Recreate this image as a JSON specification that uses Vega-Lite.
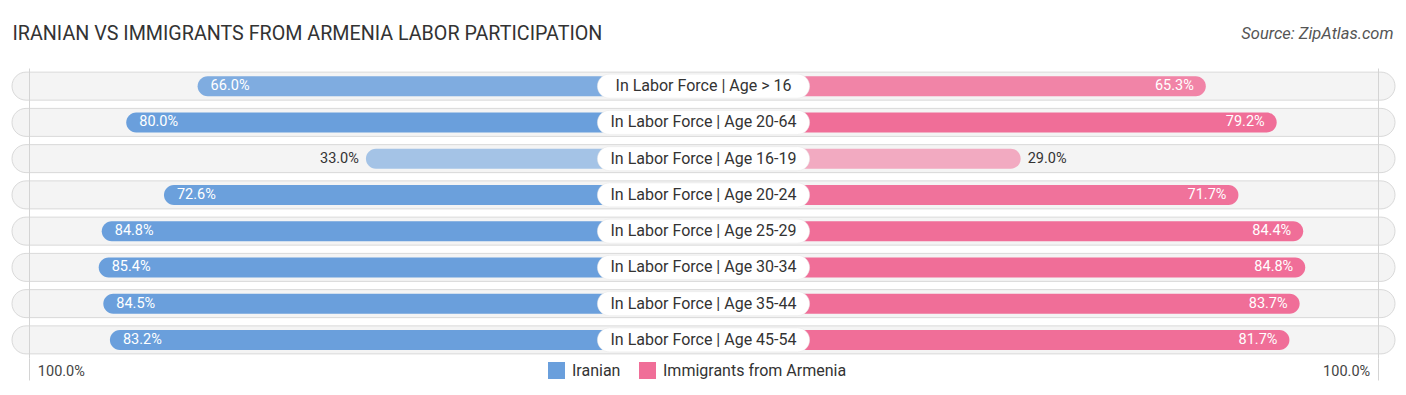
{
  "$schema": "https://vega.github.io/schema/vega-lite/v6.json",
  "width": 1383,
  "height": 290,
  "autosize": {"type": "none"},
  "padding": {"left": 12, "top": 68, "right": 11, "bottom": 37},
  "background": "white",
  "config": {"view": {"stroke": null}, "font": "Roboto"},
  "data": {
    "values": [
      {"category": "In Labor Force | Age > 16", "group": "Iranian", "value": 0.660},
      {"category": "In Labor Force | Age > 16", "group": "Immigrants from Armenia", "value": 0.653},
      {"category": "In Labor Force | Age 20-64", "group": "Iranian", "value": 0.800},
      {"category": "In Labor Force | Age 20-64", "group": "Immigrants from Armenia", "value": 0.792},
      {"category": "In Labor Force | Age 16-19", "group": "Iranian", "value": 0.330},
      {"category": "In Labor Force | Age 16-19", "group": "Immigrants from Armenia", "value": 0.290},
      {"category": "In Labor Force | Age 20-24", "group": "Iranian", "value": 0.726},
      {"category": "In Labor Force | Age 20-24", "group": "Immigrants from Armenia", "value": 0.717},
      {"category": "In Labor Force | Age 25-29", "group": "Iranian", "value": 0.848},
      {"category": "In Labor Force | Age 25-29", "group": "Immigrants from Armenia", "value": 0.844},
      {"category": "In Labor Force | Age 30-34", "group": "Iranian", "value": 0.854},
      {"category": "In Labor Force | Age 30-34", "group": "Immigrants from Armenia", "value": 0.848},
      {"category": "In Labor Force | Age 35-44", "group": "Iranian", "value": 0.845},
      {"category": "In Labor Force | Age 35-44", "group": "Immigrants from Armenia", "value": 0.837},
      {"category": "In Labor Force | Age 45-54", "group": "Iranian", "value": 0.832},
      {"category": "In Labor Force | Age 45-54", "group": "Immigrants from Armenia", "value": 0.817}
    ]
  },
  "encoding": {
    "y": {"field": "category", "type": "nominal", "sort": null, "axis": null,
          "scale": {"paddingInner": 0, "paddingOuter": 0}}
  },
  "layer": [
    {
      "transform": [{"filter": "datum.group === 'Iranian'"}],
      "mark": {"type": "bar", "size": 28, "cornerRadius": 14, "fill": "#f4f4f4", "stroke": "#d9d9d9", "strokeWidth": 1},
      "encoding": {
        "x": {"datum": 1.024, "type": "quantitative",
              "scale": {"domain": [-0.332, 1.024], "range": [691.5, 0], "nice": false, "zero": false},
              "axis": {"orient": "top", "labels": false, "ticks": false, "domain": false, "grid": false,
                       "title": "IRANIAN VS IMMIGRANTS FROM ARMENIA LABOR PARTICIPATION",
                       "titleX": 0, "titleY": -35, "titleAlign": "left", "titleBaseline": "middle",
                       "titleFontSize": 19.7, "titleFontWeight": "normal", "titleColor": "#333333", "titleFont": "Roboto"}},
        "x2": {"datum": -1.688}
      }
    },
    {
      "transform": [{"filter": "datum.group === 'Iranian'"}],
      "mark": {"type": "bar", "size": 20, "cornerRadius": 10},
      "encoding": {
        "x": {"field": "value", "type": "quantitative",
              "scale": {"domain": [-0.332, 1.024], "range": [691.5, 0], "nice": false, "zero": false},
              "axis": {"orient": "bottom", "values": [0.99], "labelExpr": "'100.0%'", "grid": true, "gridColor": "#d4d4d4",
                       "ticks": true, "tickSize": 22, "tickColor": "#d4d4d4", "domain": false,
                       "labelAlign": "left", "labelOffset": 8, "labelPadding": -16, "labelFontSize": 14.5,
                       "labelColor": "#444444", "title": null, "zindex": 1}},
        "x2": {"datum": -0.332},
        "color": {"field": "group", "type": "nominal",
                  "scale": {"domain": ["Iranian", "Immigrants from Armenia"], "range": ["#6a9fdc", "#f06e98"]},
                  "legend": {"orient": "none", "legendX": 536, "legendY": 294, "direction": "horizontal", "title": null,
                             "symbolType": "square", "symbolSize": 289, "symbolStrokeWidth": 0, "symbolOpacity": 1,
                             "labelFontSize": 16, "labelColor": "#333333", "labelFont": "Roboto", "labelLimit": 400,
                             "columnPadding": 18, "labelOffset": 7}},
        "opacity": {"field": "value", "type": "quantitative",
                    "scale": {"domain": [0.30, 0.66, 0.73], "range": [0.55, 0.85, 1], "clamp": true}, "legend": null}
      }
    },
    {
      "transform": [{"filter": "datum.group === 'Immigrants from Armenia'"}],
      "mark": {"type": "bar", "size": 20, "cornerRadius": 10},
      "encoding": {
        "x": {"field": "value", "type": "quantitative",
              "scale": {"domain": [-0.332, 1.024], "range": [691.5, 1383], "nice": false, "zero": false},
              "axis": {"orient": "bottom", "values": [0.99], "labelExpr": "'100.0%'", "grid": true, "gridColor": "#d4d4d4",
                       "ticks": true, "tickSize": 22, "tickColor": "#d4d4d4", "domain": false,
                       "labelAlign": "right", "labelOffset": -8, "labelPadding": -16, "labelFontSize": 14.5,
                       "labelColor": "#444444", "title": null, "zindex": 1}},
        "x2": {"datum": -0.332},
        "color": {"field": "group", "type": "nominal",
                  "scale": {"domain": ["Iranian", "Immigrants from Armenia"], "range": ["#6a9fdc", "#f06e98"]}},
        "opacity": {"field": "value", "type": "quantitative",
                    "scale": {"domain": [0.30, 0.66, 0.73], "range": [0.55, 0.85, 1], "clamp": true}, "legend": null}
      }
    },
    {
      "transform": [{"filter": "datum.group === 'Iranian' && datum.value >= 0.5"}],
      "mark": {"type": "text", "align": "left", "dx": 13, "baseline": "middle", "fontSize": 14.5, "color": "white", "font": "Roboto"},
      "encoding": {
        "x": {"field": "value", "type": "quantitative",
              "scale": {"domain": [-0.332, 1.024], "range": [691.5, 0], "nice": false, "zero": false}, "axis": null},
        "text": {"field": "value", "type": "quantitative", "format": ".1%"}
      }
    },
    {
      "transform": [{"filter": "datum.group === 'Iranian' && datum.value < 0.5"}],
      "mark": {"type": "text", "align": "right", "dx": -7, "baseline": "middle", "fontSize": 14.5, "color": "#333333", "font": "Roboto"},
      "encoding": {
        "x": {"field": "value", "type": "quantitative",
              "scale": {"domain": [-0.332, 1.024], "range": [691.5, 0], "nice": false, "zero": false}, "axis": null},
        "text": {"field": "value", "type": "quantitative", "format": ".1%"}
      }
    },
    {
      "transform": [{"filter": "datum.group === 'Immigrants from Armenia' && datum.value >= 0.5"}],
      "mark": {"type": "text", "align": "right", "dx": -12, "baseline": "middle", "fontSize": 14.5, "color": "white", "font": "Roboto"},
      "encoding": {
        "x": {"field": "value", "type": "quantitative",
              "scale": {"domain": [-0.332, 1.024], "range": [691.5, 1383], "nice": false, "zero": false}, "axis": null},
        "text": {"field": "value", "type": "quantitative", "format": ".1%"}
      }
    },
    {
      "transform": [{"filter": "datum.group === 'Immigrants from Armenia' && datum.value < 0.5"}],
      "mark": {"type": "text", "align": "left", "dx": 7, "baseline": "middle", "fontSize": 14.5, "color": "#333333", "font": "Roboto"},
      "encoding": {
        "x": {"field": "value", "type": "quantitative",
              "scale": {"domain": [-0.332, 1.024], "range": [691.5, 1383], "nice": false, "zero": false}, "axis": null},
        "text": {"field": "value", "type": "quantitative", "format": ".1%"}
      }
    },
    {
      "transform": [{"filter": "datum.group === 'Iranian'"}],
      "mark": {"type": "bar", "size": 24, "cornerRadius": 12, "fill": "white", "stroke": "#e6e6e6", "strokeWidth": 0.5},
      "encoding": {
        "x": {"datum": -0.540, "type": "quantitative",
              "scale": {"domain": [-0.332, 1.024], "range": [691.5, 1383], "nice": false, "zero": false},
              "axis": {"orient": "top", "labels": false, "ticks": false, "domain": false, "grid": false,
                       "title": "Source: ZipAtlas.com",
                       "titleX": 1381, "titleY": -35, "titleAlign": "right", "titleBaseline": "middle",
                       "titleFontSize": 16.5, "titleFontWeight": "normal", "titleFontStyle": "italic",
                       "titleColor": "#555555", "titleFont": "Roboto"}},
        "x2": {"datum": -0.124}
      }
    },
    {
      "transform": [{"filter": "datum.group === 'Iranian'"}],
      "mark": {"type": "text", "align": "center", "baseline": "middle", "fontSize": 16, "color": "#333333", "font": "Roboto"},
      "encoding": {
        "x": {"datum": -0.332, "type": "quantitative",
              "scale": {"domain": [-0.332, 1.024], "range": [691.5, 1383], "nice": false, "zero": false}, "axis": null},
        "text": {"field": "category", "type": "nominal"}
      }
    }
  ],
  "resolve": {"scale": {"x": "independent", "color": "shared", "opacity": "shared"}, "axis": {"x": "independent"}}
}
